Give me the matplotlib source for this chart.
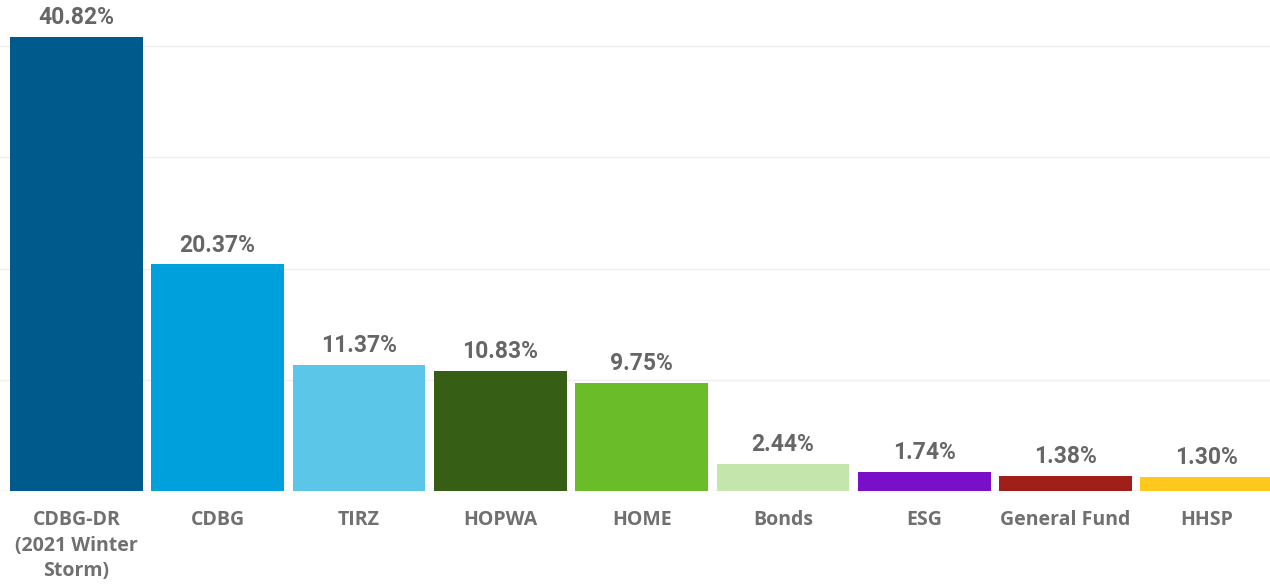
import matplotlib.pyplot as plt

categories = ["CDBG-DR\n(2021 Winter\nStorm)", "CDBG", "TIRZ", "HOPWA", "HOME",
              "Bonds", "ESG", "General Fund", "HHSP"]
shares = [40.82, 20.37, 11.37, 10.83, 9.75, 2.44, 1.74, 1.38, 1.30]
colors = ["#005A8C", "#00A0DC", "#5BC6E8", "#365F15", "#6ABD29",
          "#C4E5AB", "#7A0FC8", "#A11F19", "#FFC81E"]

fig = plt.figure(figsize=(12.70, 5.88), dpi=100)
ax = fig.add_axes([0, 97 / 588, 1, 491 / 588])

x = range(len(categories))
ax.bar(x, shares, width=0.94, color=colors, zorder=2)

for i, v in enumerate(shares):
    ax.text(i, v + 0.7, f"{v:.2f}%", ha="center", va="bottom",
            fontsize=16.5, fontweight="bold", family="Roboto", color="#666666")

ax.set_xlim(-0.541, 8.447)
ax.set_ylim(0, 44.15)
ax.set_yticks([10, 20, 30, 40])
ax.yaxis.grid(True, color="#eeeeee", linewidth=1, zorder=0)
ax.axhline(0, color="#dddddd", linewidth=1, zorder=1)
ax.tick_params(axis="y", left=False, labelleft=False)
ax.set_xticks(list(x))
ax.set_xticklabels(categories, fontsize=14, fontweight="bold", family="Open Sans",
                   color="#707070", linespacing=1.35)
ax.tick_params(axis="x", length=0, pad=14)
for s in ax.spines.values():
    s.set_visible(False)

fig.savefig("out.png", dpi=100)
